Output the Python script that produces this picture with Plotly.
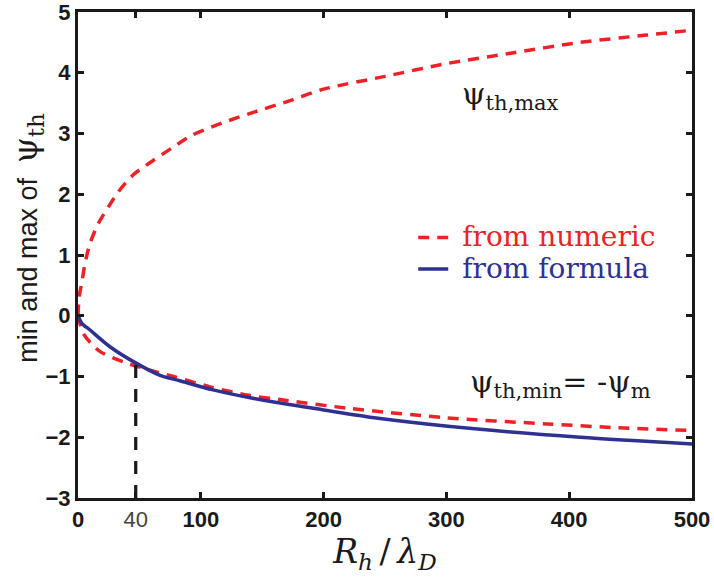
import plotly.graph_objects as go

# ---- data ----
x_num_max = [0, 0.5, 1.5, 3, 5.7, 9.8, 16.6, 24.7, 32.9, 45, 60, 76.4, 92.7, 117, 141.5,
             174, 200, 250, 300, 355, 409, 463, 500]
y_num_max = [0, 0.2, 0.38, 0.53, 0.86, 1.19, 1.52, 1.79, 2.04, 2.32, 2.54, 2.76, 2.97, 3.17,
             3.34, 3.55, 3.73, 3.94, 4.15, 4.33, 4.50, 4.62, 4.70]

x_num_min = [0, 1.5, 4.3, 10, 18, 37, 56, 77.7, 107.6, 139, 164.6, 219, 300, 382, 436, 500]
y_num_min = [0, -0.12, -0.29, -0.44, -0.59, -0.76, -0.88, -1.0, -1.17, -1.31, -1.38, -1.52,
             -1.68, -1.78, -1.84, -1.89]

x_formula = [0, 3, 9.8, 26, 47.3, 66.8, 83, 110, 148, 200, 246, 327.6, 409, 500]
y_formula = [0, -0.12, -0.235, -0.51, -0.78, -0.98, -1.07, -1.22, -1.38, -1.55, -1.69, -1.87,
             -2.0, -2.11]

x_marker = [47, 47]
y_marker = [-3, -0.8]

x_tick_vals = [0, 47, 100, 200, 300, 400, 500]
x_tick_text = ["<b>0</b>", "<span style='color:#444'>40</span>", "<b>100</b>", "<b>200</b>",
               "<b>300</b>", "<b>400</b>", "<b>500</b>"]
y_tick_vals = [-3, -2, -1, 0, 1, 2, 3, 4, 5]
y_tick_text = ["<b>\u22123</b>", "<b>\u22122</b>", "<b>\u22121</b>", "<b>0</b>", "<b>1</b>",
               "<b>2</b>", "<b>3</b>", "<b>4</b>", "<b>5</b>"]

RED = "#ec2227"
BLUE = "#2e3192"
SERIF = "DejaVu Serif"

fig = go.Figure()
fig.add_trace(go.Scatter(x=x_num_max, y=y_num_max, mode="lines",
                         line=dict(color=RED, width=3.5, dash="11px,8px", shape="spline", smoothing=0.8),
                         name=f"<span style='color:{RED};font-size:28px'>\u00a0from numeric</span>",
                         legendgroup="num"))
fig.add_trace(go.Scatter(x=x_num_min, y=y_num_min, mode="lines",
                         line=dict(color=RED, width=3.5, dash="11px,8px", shape="spline", smoothing=0.8),
                         showlegend=False, legendgroup="num"))
fig.add_trace(go.Scatter(x=x_formula, y=y_formula, mode="lines",
                         line=dict(color=BLUE, width=3.5, shape="spline", smoothing=0.8),
                         name=f"<span style='color:{BLUE};font-size:28px'>\u00a0from formula</span>"))
fig.add_trace(go.Scatter(x=x_marker, y=y_marker, mode="lines",
                         line=dict(color="#1a1a1a", width=3.2, dash="13px,11px"),
                         showlegend=False))

fig.add_annotation(x=352, y=3.62, xref="x", yref="y", showarrow=False,
                   text="\u03c8<sub>th,max</sub>",
                   font=dict(family=SERIF, size=30, color="#1a1a1a"))
fig.add_annotation(x=393, y=-1.11, xref="x", yref="y", showarrow=False,
                   text="\u03c8<sub>th,min</sub>= -\u03c8<sub>m</sub>",
                   font=dict(family=SERIF, size=30, color="#1a1a1a"))
# y-axis title (placed as rotated text to match the reference position)
fig.add_annotation(x=-0.082, y=0.535, xref="paper", yref="paper", showarrow=False,
                   textangle=-90, xanchor="center", yanchor="middle",
                   text="min and max of  <span style='font-family:DejaVu Serif;font-size:33px'>\u03c8<sub>th</sub></span>",
                   font=dict(family="Liberation Sans", size=27, color="#1a1a1a"))

axis_common = dict(showline=True, linecolor="#1a1a1a", linewidth=3, mirror="allticks",
                   ticks="inside", ticklen=6, tickwidth=2.5, tickcolor="#1a1a1a",
                   showgrid=False, zeroline=False, automargin=False, ticklabeloverflow="allow",
                   tickfont=dict(family="Liberation Sans", size=22, color="#1a1a1a"))

fig.update_xaxes(range=[0, 500], tickmode="array", tickvals=x_tick_vals, ticktext=x_tick_text,
                 title=dict(text="<i>R</i><sub><i>h</i></sub>\u2009/\u2009<i>\u03bb</i><sub><i>D</i></sub>",
                            font=dict(family=SERIF, size=33, color="#1a1a1a"), standoff=6),
                 **axis_common)
fig.update_yaxes(range=[-3, 5], tickmode="array", tickvals=y_tick_vals, ticktext=y_tick_text,
                 **axis_common)

fig.update_layout(
    width=714, height=579,
    margin=dict(l=78, r=22, t=12, b=81),
    plot_bgcolor="white", paper_bgcolor="white",
    legend=dict(x=0.546, y=0.579, xanchor="left", yanchor="top", bgcolor="rgba(0,0,0,0)",
                font=dict(family=SERIF, size=22), tracegroupgap=0, itemwidth=30),
)

# remove the default page margin so the 714x579 figure fills the window exactly
fig.write_html("out.html", config={"displayModeBar": False},
               post_script="document.body.style.margin='0';document.body.style.overflow='hidden';")
